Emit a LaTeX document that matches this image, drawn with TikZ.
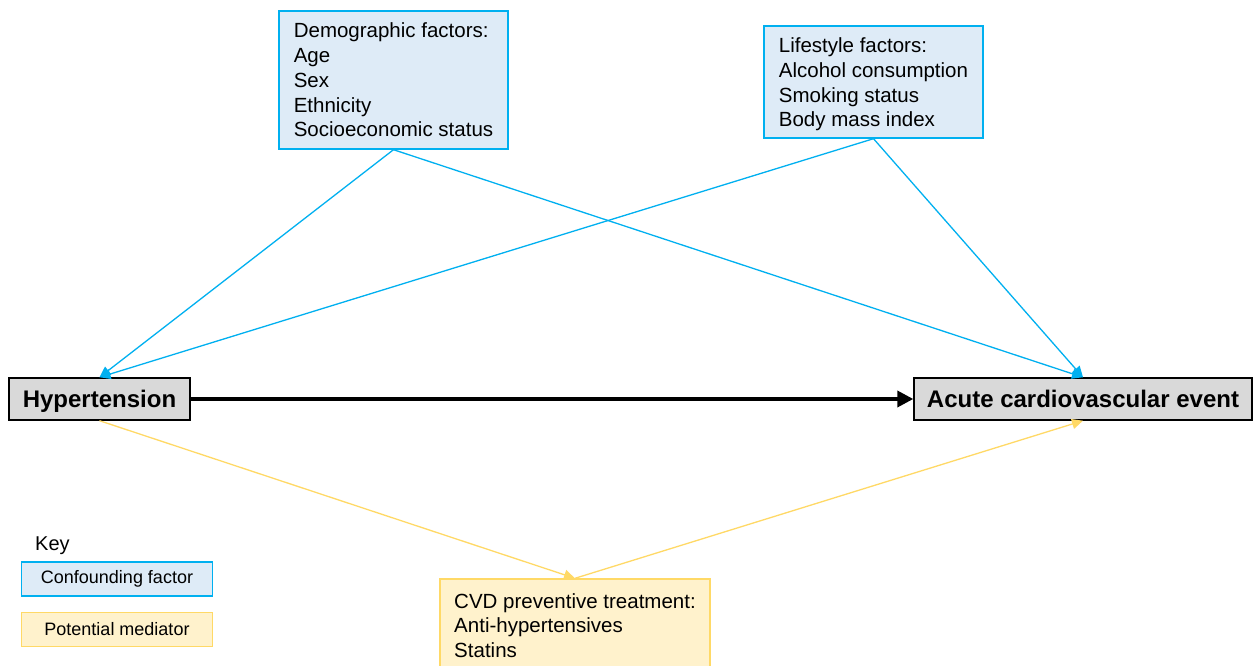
\documentclass[tikz,border=0pt]{standalone}
\usepackage{fontspec}
\setmainfont{Liberation Sans}
\usetikzlibrary{arrows.meta}
\definecolor{cfline}{RGB}{0,176,240}
\definecolor{cffill}{RGB}{222,235,247}
\definecolor{mdline}{RGB}{255,217,102}
\definecolor{mdfill}{RGB}{255,242,204}
\definecolor{exfill}{RGB}{217,217,217}
\tikzset{
  confbox/.style={draw=cfline, fill=cffill, line width=1.4pt, align=left, inner sep=0pt,
    font=\fontsize{20.5}{24.7}\selectfont},
  medbox/.style={draw=mdline, fill=mdfill, line width=1.4pt, align=left, inner sep=0pt,
    font=\fontsize{20.5}{24.5}\selectfont},
  mainbox/.style={draw=black, fill=exfill, line width=1.4pt, inner sep=0pt,
    font=\fontsize{24}{28}\selectfont\bfseries, minimum height=42, text height=17, text depth=1},
  keybox/.style={line width=1.4pt, inner sep=0pt, minimum width=191, minimum height=34,
    font=\fontsize{18}{21}\selectfont},
  confarrow/.style={draw=cfline, line width=1.3pt, -{Triangle[length=11pt,width=10pt]}},
  medarrow/.style={draw=mdline, line width=1.3pt, -{Triangle[length=11pt,width=10pt]}},
  mainarrow/.style={draw=black, line width=3.6pt, -{Triangle[length=16pt,width=16pt]}}
}
\begin{document}
\begin{tikzpicture}[x=1pt,y=-1pt]
\clip (0,0) rectangle (1253,666);
\fill[white] (0,0) rectangle (1253,666);

\node[confbox, minimum width=229, minimum height=138] (demo) at (393.5,80)
  {Demographic factors:\\Age\\Sex\\Ethnicity\\Socioeconomic status};
\node[confbox, minimum width=219, minimum height=112] (life) at (873.5,82)
  {\rule{0pt}{20pt}Lifestyle factors:\\Alcohol consumption\\Smoking status\\Body mass index};
\node[mainbox, minimum width=181] (hyp) at (99.5,399) {Hypertension};
\node[mainbox, minimum width=338] (acute) at (1083,399) {Acute cardiovascular event};
\node[medbox, minimum width=270, minimum height=93] (cvd) at (575,625.5)
  {CVD preventive treatment:\\Anti-hypertensives\\Statins};

\node[anchor=base west, inner sep=0pt, font=\fontsize{20}{24}\selectfont] (key) at (35,550) {Key};
\node[keybox, draw=cfline, fill=cffill] (keyconf) at (117,579) {Confounding factor};
\node[keybox, draw=mdline, fill=mdfill] (keymed) at (117,629.5) {Potential mediator};

\draw[confarrow] (demo.south) -- (hyp.north);
\draw[confarrow] (demo.south) -- (acute.north);
\draw[confarrow] (life.south) -- (hyp.north);
\draw[confarrow] (life.south) -- (acute.north);
\draw[mainarrow] (hyp.east) -- (acute.west);
\draw[medarrow] (hyp.south) -- (cvd.north);
\draw[medarrow] (cvd.north) -- (acute.south);
\end{tikzpicture}
\end{document}
